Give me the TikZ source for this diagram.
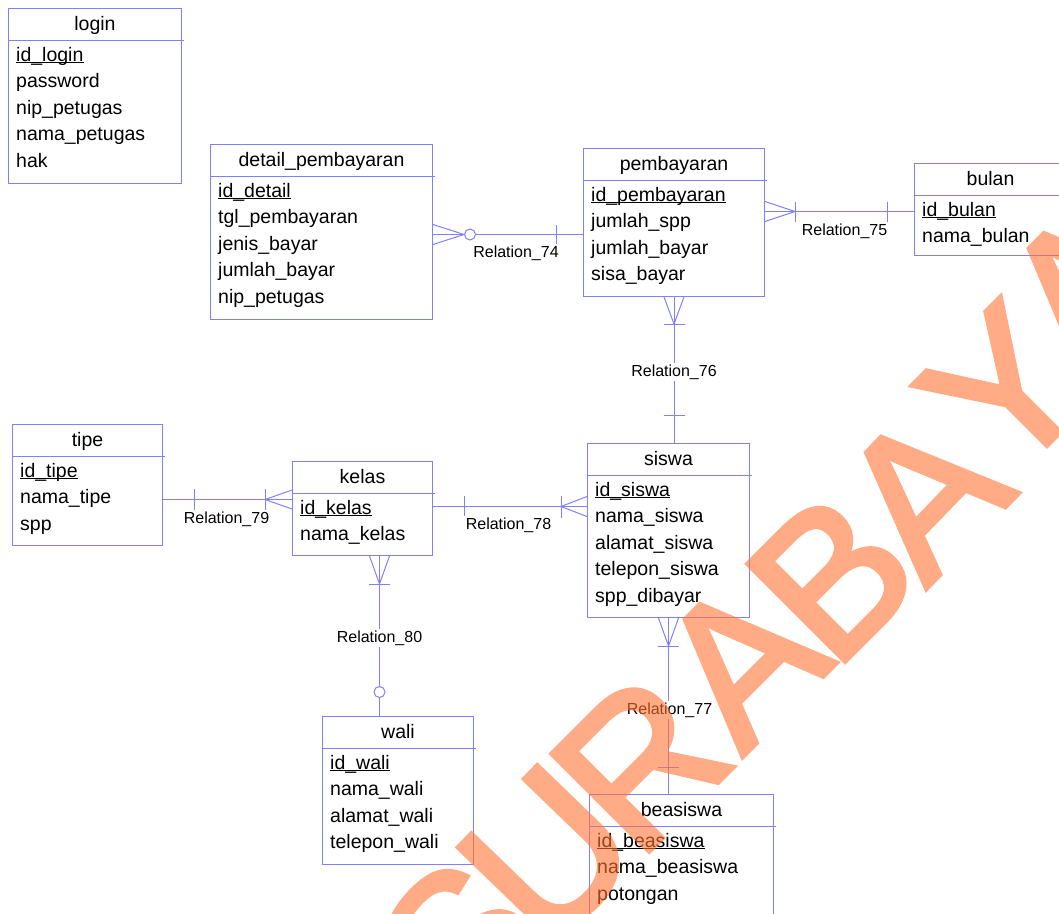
\documentclass[tikz,border=0pt]{standalone}
\usepackage{fontspec}
\setmainfont{Liberation Sans}
\newfontfamily\wmfont[FakeBold=2.5]{Liberation Sans}
\usetikzlibrary{positioning,calc}
\definecolor{erline}{RGB}{128,128,255}
\definecolor{wmorange}{RGB}{255,115,51}

\begin{document}
\begin{tikzpicture}[x=1pt,y=-1pt,
entity/.style={rectangle,draw=erline,line width=1pt,anchor=north west,inner sep=0pt},
header/.style={inner sep=0pt,minimum height=32.5pt,text height=14pt,text depth=1pt,font=\fontsize{19.5pt}{23pt}\selectfont},
attr/.style={anchor=west,inner sep=0pt,text height=14pt,text depth=1pt,font=\fontsize{19.5pt}{23pt}\selectfont},
sep/.style={draw=erline,line width=1pt},
pk/.style={line width=1.3pt},
rel/.style={draw=erline,line width=1pt},
opt/.style={circle,draw=erline,line width=1pt,fill=white,inner sep=0pt,minimum size=11pt},
rlab/.style={fill=white,inner sep=2pt,text height=11.5pt,text depth=2.5pt,font=\fontsize{16pt}{19pt}\selectfont},
wmark/.style={text=wmorange,inner sep=0pt,font=\wmfont\fontsize{200pt}{200pt}\selectfont},
]
\useasboundingbox (0,0) rectangle (1059,913);

% login
\node [entity,minimum width=173pt,minimum height=175pt] (login) at (8,8) {};
\node [header] (loginH) [below=0pt of login.north] {login};
\draw [sep] (login.west |- loginH.south) -- (login.east |- loginH.south) -- ++(2,0);
\foreach \at [count=\i] in {id\_login, password, nip\_petugas, nama\_petugas, hak}
  \node [attr] (login\i) at ($(login.north west)+(8,{46.5+26.6*(\i-1)})$) {\at};
\draw [pk] (login1.south west) -- (login1.south east);

% detail_pembayaran
\node [entity,minimum width=222pt,minimum height=175pt] (detail) at (210,144) {};
\node [header] (detailH) [below=0pt of detail.north] {detail\_pembayaran};
\draw [sep] (detail.west |- detailH.south) -- (detail.east |- detailH.south) -- ++(2,0);
\foreach \at [count=\i] in {id\_detail, tgl\_pembayaran, jenis\_bayar, jumlah\_bayar, nip\_petugas}
  \node [attr] (detail\i) at ($(detail.north west)+(8,{46.5+26.6*(\i-1)})$) {\at};
\draw [pk] (detail1.south west) -- (detail1.south east);

% pembayaran
\node [entity,minimum width=181pt,minimum height=148pt] (bayar) at (583,148) {};
\node [header] (bayarH) [below=0pt of bayar.north] {pembayaran};
\draw [sep] (bayar.west |- bayarH.south) -- (bayar.east |- bayarH.south) -- ++(2,0);
\foreach \at [count=\i] in {id\_pembayaran, jumlah\_spp, jumlah\_bayar, sisa\_bayar}
  \node [attr] (bayar\i) at ($(bayar.north west)+(8,{46.5+26.6*(\i-1)})$) {\at};
\draw [pk] (bayar1.south west) -- (bayar1.south east);

% bulan
\node [entity,minimum width=152pt,minimum height=92pt] (bulan) at (914,163) {};
\node [header] (bulanH) [below=0pt of bulan.north] {bulan};
\draw [sep] (bulan.west |- bulanH.south) -- (bulan.east |- bulanH.south) -- ++(2,0);
\foreach \at [count=\i] in {id\_bulan, nama\_bulan}
  \node [attr] (bulan\i) at ($(bulan.north west)+(8,{46.5+26.6*(\i-1)})$) {\at};
\draw [pk] (bulan1.south west) -- (bulan1.south east);

% tipe
\node [entity,minimum width=150pt,minimum height=121pt] (tipe) at (12,424) {};
\node [header] (tipeH) [below=0pt of tipe.north] {tipe};
\draw [sep] (tipe.west |- tipeH.south) -- (tipe.east |- tipeH.south) -- ++(2,0);
\foreach \at [count=\i] in {id\_tipe, nama\_tipe, spp}
  \node [attr] (tipe\i) at ($(tipe.north west)+(8,{46.5+26.6*(\i-1)})$) {\at};
\draw [pk] (tipe1.south west) -- (tipe1.south east);

% kelas
\node [entity,minimum width=140pt,minimum height=94pt] (kelas) at (292,461) {};
\node [header] (kelasH) [below=0pt of kelas.north] {kelas};
\draw [sep] (kelas.west |- kelasH.south) -- (kelas.east |- kelasH.south) -- ++(2,0);
\foreach \at [count=\i] in {id\_kelas, nama\_kelas}
  \node [attr] (kelas\i) at ($(kelas.north west)+(8,{46.5+26.6*(\i-1)})$) {\at};
\draw [pk] (kelas1.south west) -- (kelas1.south east);

% siswa
\node [entity,minimum width=162pt,minimum height=174pt] (siswa) at (587,443) {};
\node [header] (siswaH) [below=0pt of siswa.north] {siswa};
\draw [sep] (siswa.west |- siswaH.south) -- (siswa.east |- siswaH.south) -- ++(2,0);
\foreach \at [count=\i] in {id\_siswa, nama\_siswa, alamat\_siswa, telepon\_siswa, spp\_dibayar}
  \node [attr] (siswa\i) at ($(siswa.north west)+(8,{46.5+26.6*(\i-1)})$) {\at};
\draw [pk] (siswa1.south west) -- (siswa1.south east);

% wali
\node [entity,minimum width=151pt,minimum height=148pt] (wali) at (322,716) {};
\node [header] (waliH) [below=0pt of wali.north] {wali};
\draw [sep] (wali.west |- waliH.south) -- (wali.east |- waliH.south) -- ++(2,0);
\foreach \at [count=\i] in {id\_wali, nama\_wali, alamat\_wali, telepon\_wali}
  \node [attr] (wali\i) at ($(wali.north west)+(8,{46.5+26.6*(\i-1)})$) {\at};
\draw [pk] (wali1.south west) -- (wali1.south east);

% beasiswa
\node [entity,minimum width=184pt,minimum height=125pt] (beasiswa) at (589,794) {};
\node [header] (beasiswaH) [below=0pt of beasiswa.north] {beasiswa};
\draw [sep] (beasiswa.west |- beasiswaH.south) -- (beasiswa.east |- beasiswaH.south) -- ++(2,0);
\foreach \at [count=\i] in {id\_beasiswa, nama\_beasiswa, potongan}
  \node [attr] (beasiswa\i) at ($(beasiswa.north west)+(8,{46.5+26.6*(\i-1)})$) {\at};
\draw [pk] (beasiswa1.south west) -- (beasiswa1.south east);

% Relation_74
\coordinate (r74a) at ($(detail.east)+(0,2.5)$);
\coordinate (r74b) at (r74a -| bayar.west);
\node [opt] (o74) at ($(r74a)+(37,0)$) {};
\draw [rel] (r74a) -- (o74.west);
\draw [rel] (o74.east) -- (r74b);
\draw [rel] ($(r74a)+(0,-10)$) -- (o74.west) -- ($(r74a)+(0,10)$);
\draw [rel] ($(r74b)+(-27,-10)$) -- ++(0,20);
\node [rlab] (l74) at ($(r74a)!0.5!(r74b)+(8,18)$) {Relation\_74};

% Relation_75
\coordinate (r75a) at ($(bayar.east)+(0,-11)$);
\coordinate (r75b) at (r75a -| bulan.west);
\draw [rel] (r75a) -- (r75b);
\draw [rel] ($(r75a)+(0,-10)$) -- ($(r75a)+(30,0)$) -- ($(r75a)+(0,10)$);
\draw [rel] ($(r75a)+(30,-10)$) -- ++(0,20);
\draw [rel] ($(r75b)+(-27,-10)$) -- ++(0,20);
\node [rlab] (l75) at ($(r75a)!0.5!(r75b)+(5,19)$) {Relation\_75};

% Relation_76
\coordinate (r76a) at (bayar.south);
\coordinate (r76b) at (r76a |- siswa.north);
\draw [rel] (r76a) -- (r76b);
\draw [rel] ($(r76a)+(-10,0)$) -- ($(r76a)+(0,27)$) -- ($(r76a)+(10,0)$);
\draw [rel] ($(r76a)+(-10.5,27)$) -- ++(21,0);
\draw [rel] ($(r76b)+(-10.5,-28)$) -- ++(21,0);
\node [rlab] (l76) at ($(r76a)!0.5!(r76b)+(0,1.5)$) {Relation\_76};

% Relation_77
\coordinate (r77a) at (siswa.south);
\coordinate (r77b) at (r77a |- beasiswa.north);
\draw [rel] (r77a) -- (r77b);
\draw [rel] ($(r77a)+(-10,0)$) -- ($(r77a)+(0,28)$) -- ($(r77a)+(10,0)$);
\draw [rel] ($(r77a)+(-10.5,28)$) -- ++(21,0);
\draw [rel] ($(r77b)+(-10.5,-27)$) -- ++(21,0);
\node [rlab] (l77) at ($(r77a)!0.5!(r77b)+(1,3.5)$) {Relation\_77};

% Relation_78
\coordinate (r78a) at ($(kelas.east)+(0,-2)$);
\coordinate (r78b) at (r78a -| siswa.west);
\draw [rel] (r78a) -- (r78b);
\draw [rel] ($(r78a)+(31,-11)$) -- ++(0,22);
\draw [rel] ($(r78b)+(0,-10)$) -- ($(r78b)+(-26,0)$) -- ($(r78b)+(0,10)$);
\draw [rel] ($(r78b)+(-26,-11)$) -- ++(0,22);
\node [rlab] (l78) at ($(r78a)!0.5!(r78b)+(-1.5,18)$) {Relation\_78};

% Relation_79
\coordinate (r79a) at ($(tipe.east)+(0,14.5)$);
\coordinate (r79b) at (r79a -| kelas.west);
\draw [rel] (r79a) -- (r79b);
\draw [rel] ($(r79a)+(31,-10.5)$) -- ++(0,21);
\draw [rel] ($(r79b)+(0,-9.5)$) -- ($(r79b)+(-27,0)$) -- ($(r79b)+(0,9.5)$);
\draw [rel] ($(r79b)+(-27,-10.5)$) -- ++(0,21);
\node [rlab] (l79) at ($(r79a)!0.5!(r79b)+(-1,19)$) {Relation\_79};

% Relation_80
\coordinate (r80a) at ($(kelas.south)+(17,0)$);
\coordinate (r80b) at (r80a |- wali.north);
\node [opt] (o80) at ($(r80b)+(0,-24)$) {};
\draw [rel] (r80a) -- (o80.north);
\draw [rel] (o80.south) -- (r80b);
\draw [rel] ($(r80a)+(-10,0)$) -- ($(r80a)+(0,28)$) -- ($(r80a)+(10,0)$);
\draw [rel] ($(r80a)+(-10.5,28)$) -- ++(21,0);
\node [rlab] (l80) at ($(r80a)!0.5!(r80b)+(0,1.5)$) {Relation\_80};

% watermark
\begin{scope}[transparency group,opacity=0.6]
\foreach \ch/\px/\py/\rot [count=\i] in {S/460/943/48, U/548/855/46, R/640/763/45, A/741/661/45,
    B/832/577/45, A/923/493/46, Y/1005/390/45, A/1085/290/45}
  \node [wmark,rotate=\rot] (wm\i) at (\px,\py) {\ch};
\end{scope}

\end{tikzpicture}
\end{document}
